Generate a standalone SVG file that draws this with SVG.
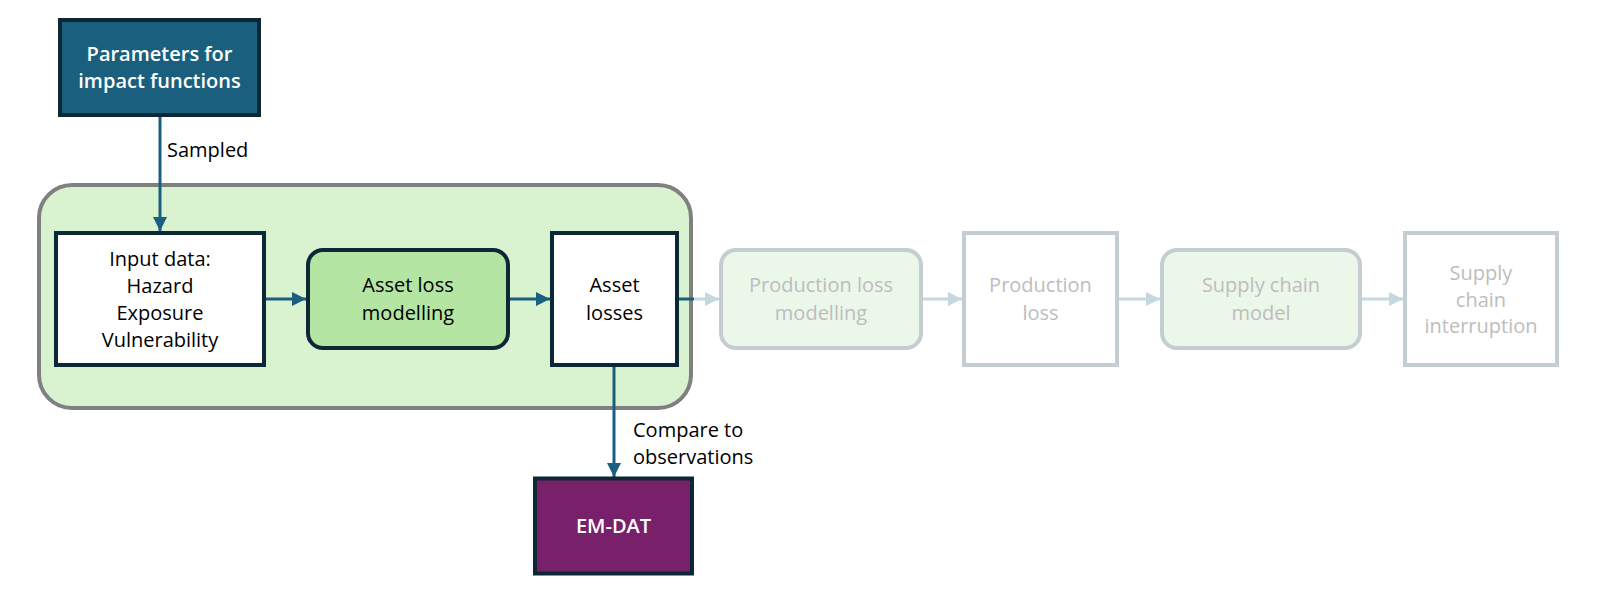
<svg xmlns="http://www.w3.org/2000/svg" width="1602" height="596" viewBox="0 0 1602 596">
<style>
text{font-family:"Open Sans","Noto Sans","Liberation Sans",sans-serif;font-size:20px;text-anchor:middle;fill:#000}
.wt{fill:#fff;font-weight:600}
.gt{fill:#bdbdbd}
.lt{text-anchor:start}
.dk{fill:#fff;stroke:#0c2736;stroke-width:4}
.fd{fill:#fff;stroke:#c3cdd2;stroke-width:4}
.fdr{fill:#ebf7e8;stroke:#c3cdd2;stroke-width:4}
.ca{stroke:#1a5f7f;stroke-width:3;fill:none}
.cl{stroke:#c5d8e0;stroke-width:3;fill:none}
</style>
<defs>
<marker id="ad" viewBox="0 0 10 10" refX="10" refY="5" markerWidth="14" markerHeight="14" markerUnits="userSpaceOnUse" orient="auto"><path d="M0,0 L10,5 L0,10 Z" fill="#1a5f7f"/></marker>
<marker id="al" viewBox="0 0 10 10" refX="10" refY="5" markerWidth="14" markerHeight="14" markerUnits="userSpaceOnUse" orient="auto"><path d="M0,0 L10,5 L0,10 Z" fill="#c5d8e0"/></marker>
</defs>
<g id="container"><rect x="39" y="185" width="652" height="223" rx="33" fill="#d9f2d0" stroke="#808080" stroke-width="4"/></g>
<g id="connectors">
<line class="ca" x1="160" y1="117" x2="160" y2="231" marker-end="url(#ad)"/>
<line class="ca" x1="266" y1="299" x2="306" y2="299" marker-end="url(#ad)"/>
<line class="ca" x1="510" y1="299" x2="550" y2="299" marker-end="url(#ad)"/>
<line class="ca" x1="679" y1="299" x2="694" y2="299"/>
<line class="cl" x1="694" y1="299" x2="719" y2="299" marker-end="url(#al)"/>
<line class="cl" x1="923" y1="299" x2="962" y2="299" marker-end="url(#al)"/>
<line class="cl" x1="1119" y1="299" x2="1160" y2="299" marker-end="url(#al)"/>
<line class="cl" x1="1362" y1="299" x2="1403" y2="299" marker-end="url(#al)"/>
<line class="ca" x1="614" y1="367" x2="614" y2="477" marker-end="url(#ad)"/>
<text class="lt" x="167" y="157">Sampled</text>
<text class="lt" x="633" y="437">Compare to</text>
<text class="lt" x="633" y="464">observations</text>
</g>
<g id="params"><rect x="60" y="20" width="199" height="95" fill="#1b5f7e" stroke="#0c2736" stroke-width="4"/>
<text class="wt" x="159.5" y="61">Parameters for</text><text class="wt" x="159.5" y="88">impact functions</text></g>
<g id="input"><rect class="dk" x="56" y="233" width="208" height="132"/>
<text x="160" y="265.5">Input data:</text><text x="160" y="292.5">Hazard</text><text x="160" y="319.5">Exposure</text><text x="160" y="346.5">Vulnerability</text></g>
<g id="assetmodel"><rect x="308" y="250" width="200" height="98" rx="15" fill="#b4e5a2" stroke="#0c2736" stroke-width="4"/>
<text x="408" y="292">Asset loss</text><text x="408" y="319.5">modelling</text></g>
<g id="assetlosses"><rect class="dk" x="552" y="233" width="125" height="132"/>
<text x="614.5" y="292">Asset</text><text x="614.5" y="319.5">losses</text></g>
<g id="prodmodel"><rect class="fdr" x="721" y="250" width="200" height="98" rx="15"/>
<text class="gt" x="821" y="292">Production loss</text><text class="gt" x="821" y="319.5">modelling</text></g>
<g id="prodloss"><rect class="fd" x="964" y="233" width="153" height="132"/>
<text class="gt" x="1040.5" y="292">Production</text><text class="gt" x="1040.5" y="319.5">loss</text></g>
<g id="scmodel"><rect class="fdr" x="1162" y="250" width="198" height="98" rx="15"/>
<text class="gt" x="1261" y="292">Supply chain</text><text class="gt" x="1261" y="319.5">model</text></g>
<g id="scint"><rect class="fd" x="1405" y="233" width="152" height="132"/>
<text class="gt" x="1481" y="280">Supply</text><text class="gt" x="1481" y="306.5">chain</text><text class="gt" x="1481" y="333">interruption</text></g>
<g id="emdat"><rect x="535" y="478.5" width="157" height="95" fill="#78216a" stroke="#0c2736" stroke-width="4"/>
<text class="wt" x="613.5" y="533">EM-DAT</text></g>
</svg>
